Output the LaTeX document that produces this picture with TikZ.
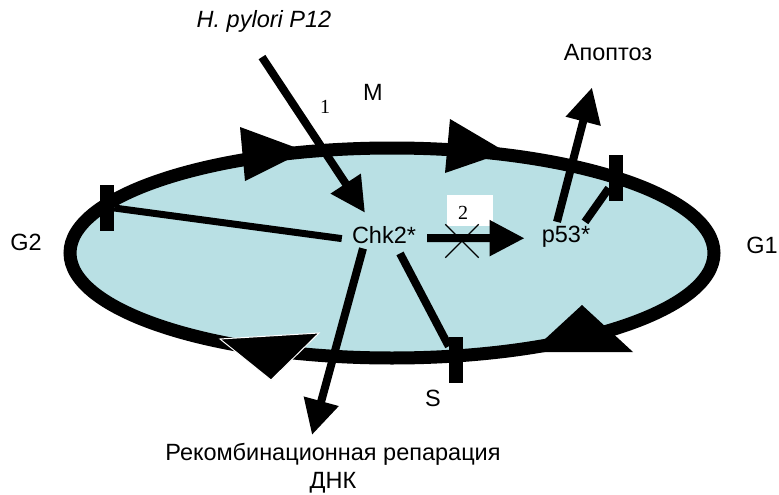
\documentclass[tikz,border=0pt]{standalone}
\usepackage{fontspec}
\setmainfont{Liberation Sans}
\newfontfamily\serifnum{Liberation Serif}
\usetikzlibrary{arrows.meta,calc,shapes.misc}
\definecolor{cellfill}{RGB}{185,224,228}
\begin{document}
\begin{tikzpicture}[x=1pt,y=-1pt,
  lbl/.style={font=\fontsize{23.5}{28}\selectfont, inner sep=0pt},
  num/.style={font=\serifnum\fontsize{20}{24}\selectfont, inner sep=0pt},
  conn/.style={line width=8pt},
  arr/.style={conn,-{Triangle[length=35pt,width=34pt]}},
  bar/.style={fill=black, minimum width=14pt, minimum height=46pt, inner sep=0pt},
  cyclehead/.style={fill=black}
]
\useasboundingbox (0,0) rectangle (779,495);
% cell cycle area
\fill[cellfill] (392,253) ellipse [x radius=322pt, y radius=105pt];

% text nodes
\node[lbl, font=\fontsize{23.5}{28}\selectfont\itshape, anchor=base] (hp) at (264,28) {H. pylori P12};
\node[lbl, anchor=base] (m) at (373,100) {M};
\node[num, anchor=base] (one) at (325,113) {1};
\node[lbl, anchor=base] (chk) at (384,243) {Chk2*};
\node[lbl, anchor=base] (p53) at (566,242) {p53*};
\node[lbl, anchor=base] (g2) at (26,250) {G2};
\node[lbl, anchor=base] (g1) at (762,253) {G1};
\node[lbl, anchor=base] (s) at (433,406) {S};
\node[lbl, anchor=base] (apo) at (608,61) {Апоптоз};
\node[lbl, align=center, anchor=north] (dna) at (333,443) {Рекомбинационная репарация\\ДНК};

% label 2 box and blocking cross
\node[fill=white, minimum width=46pt, minimum height=31pt, inner sep=0pt] (box2) at (470,210.5) {};
\node[num, anchor=base] (two) at (463,219) {2};

% checkpoint bars
\node[bar] (g2bar) at (107,208) {};
\node[bar] (sbar) at (456,360) {};
\node[bar] (g1bar) at (616,178) {};

% connectors
\draw[arr] ($(hp.south)+(-2,24)$) -- ($(chk.north)+(-19,-13)$);
\draw[conn, line width=7pt] ($(chk.west)+(-10,4)$) -- (g2bar.east);
\draw[conn] ($(chk.south)+(16,10)$) -- (sbar);
\draw[arr] ($(chk.south)+(-21,5)$) -- ($(dna.north)+(-21,-8)$);
\draw[arr] ($(chk.east)+(11,3.4)$) -- ($(p53.west)+(-17,2)$);
\node[cross out, draw, line width=1.4pt, minimum width=32pt, minimum height=32pt, inner sep=0pt] (block) at (462,241) {};
\draw[arr] ($(p53.north)+(-9,-3.5)$) -- ($(apo.south)+(-16,26)$);
\draw[conn] ($(p53.north)+(19,-3.5)$) -- (g1bar);

% cycle outline
\draw[line width=13pt] (392,253) ellipse [x radius=322pt, y radius=105pt];
\fill[cyclehead] (240,127) -- (305,151) -- (245,181) -- cycle;
\fill[cyclehead] (450,119) -- (506,152) -- (445,173) -- cycle;
\filldraw[cyclehead, draw=white, line width=1pt] (220,339) -- (319,333) -- (271,380) -- cycle;
\fill[cyclehead] (531,352) -- (582,305) -- (633,352) -- cycle;

% bars on top
\node[bar] at (g2bar) {};
\node[bar] at (sbar) {};
\node[bar] at (g1bar) {};
\end{tikzpicture}
\end{document}
